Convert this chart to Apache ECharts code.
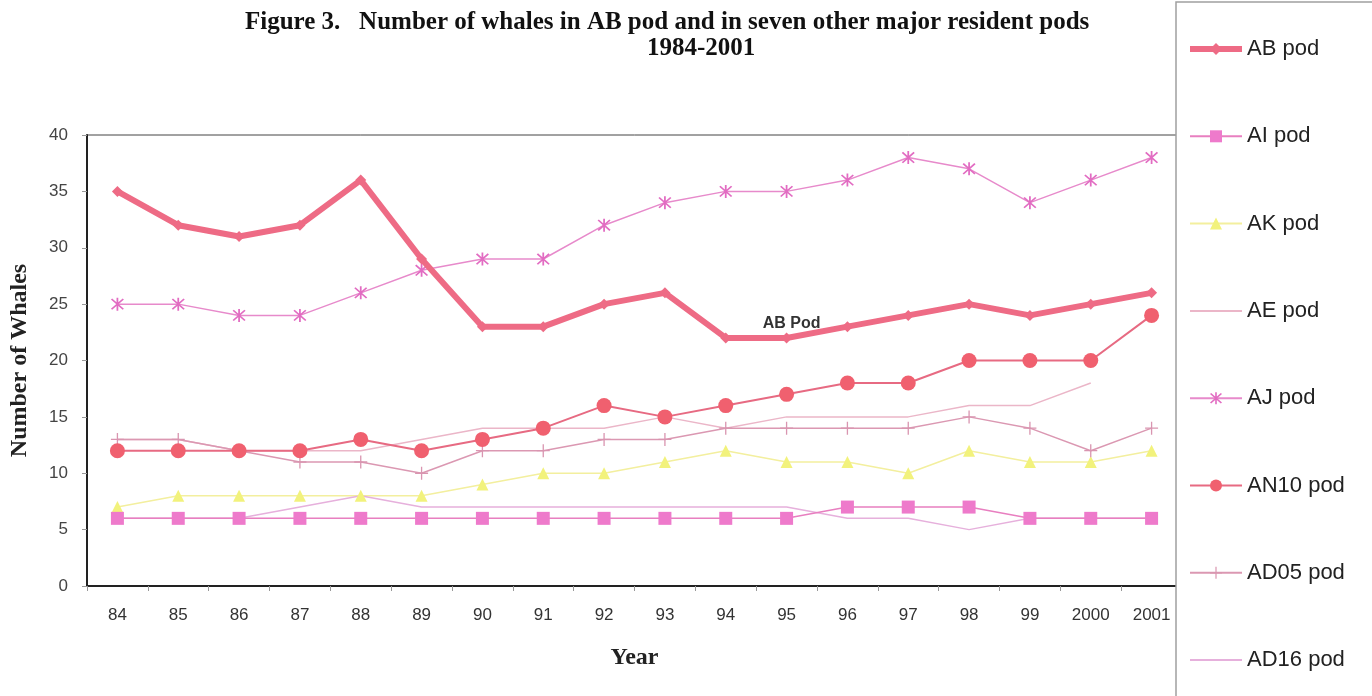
<!DOCTYPE html>
<html>
<head>
<meta charset="utf-8">
<script src="https://cdn.jsdelivr.net/npm/echarts@6/dist/echarts.min.js"></script>
<style>
  html, body { margin: 0; padding: 0; background: #fff; }
  #chart { width: 1372px; height: 696px; }
</style>
</head>
<body>
<div id="chart"></div>
<script>
// Survey years (two-digit labels as printed on the axis)
const years = ['84','85','86','87','88','89','90','91','92','93','94','95','96','97','98','99','2000','2001'];

// Whale counts per pod, 1984-2001
const abPod   = [35, 32, 31, 32, 36, 29, 23, 23, 25, 26, 22, 22, 23, 24, 25, 24, 25, 26];
const aiPod   = [6, 6, 6, 6, 6, 6, 6, 6, 6, 6, 6, 6, 7, 7, 7, 6, 6, 6];
const akPod   = [7, 8, 8, 8, 8, 8, 9, 10, 10, 11, 12, 11, 11, 10, 12, 11, 11, 12];
const aePod   = [13, 13, 12, 12, 12, 13, 14, 14, 14, 15, 14, 15, 15, 15, 16, 16, 18, null];
const ajPod   = [25, 25, 24, 24, 26, 28, 29, 29, 32, 34, 35, 35, 36, 38, 37, 34, 36, 38];
const an10Pod = [12, 12, 12, 12, 13, 12, 13, 14, 16, 15, 16, 17, 18, 18, 20, 20, 20, 24];
const ad05Pod = [13, 13, 12, 11, 11, 10, 12, 12, 13, 13, 14, 14, 14, 14, 15, 14, 12, 14];
const ad16Pod = [6, 6, 6, 7, 8, 7, 7, 7, 7, 7, 7, 7, 6, 6, 5, 6, 6, 6];

const yTicks = { min: 0, max: 40, interval: 5 };
const abLabelYear = '95';
const abLabelText = 'AB Pod';

// Marker shapes drawn as paths
const asteriskPath = 'path://M4.4,0h1.2v10h-1.2z M0.6,1.45L1.45,0.6L9.4,8.55L8.55,9.4z M8.55,0.6L9.4,1.45L1.45,9.4L0.6,8.55z';
const plusPath = 'path://M4.5,0h1v4.5h4.5v1h-4.5v4.5h-1v-4.5h-4.5v-1h4.5z';

const serif = '"Liberation Serif", "Times New Roman", serif';
const sans = '"Liberation Sans", Arial, sans-serif';

const chart = echarts.init(document.getElementById('chart'), null, { renderer: 'canvas' });

function lineSeries(name, data, color, opts) {
  return Object.assign({
    name: name,
    type: 'line',
    data: data,
    connectNulls: false,
    itemStyle: { color: color },
    lineStyle: { color: color, width: 1.5 },
    emphasis: { disabled: true },
    animation: false
  }, opts || {});
}

const abData = abPod.map((v, i) => years[i] === abLabelYear
  ? { value: v, label: { show: true, formatter: abLabelText, position: 'top', distance: 1, offset: [5, 0],
      fontFamily: sans, fontWeight: 'bold', fontSize: 16, color: '#333' } }
  : v);

const titleStyle = { fontFamily: serif, fontWeight: 'bold', fontSize: 25, color: '#111' };

chart.setOption({
  backgroundColor: '#ffffff',
  title: [
    {
      text: 'Figure 3.   Number of whales in AB pod and in seven other major resident pods',
      left: 245, top: 10, padding: 0,
      textStyle: titleStyle
    },
    {
      text: '1984-2001',
      left: 647, top: 36, padding: 0,
      textStyle: titleStyle
    }
  ],
  grid: {
    left: 85, right: 190, top: 135, bottom: 110,
    show: true, borderColor: '#444', borderWidth: 1, backgroundColor: 'transparent'
  },
  legend: {
    orient: 'vertical',
    left: 1187, top: 38, padding: 0,
    itemWidth: 52, itemHeight: 15, itemGap: 65.3,
    z: 100,
    selectedMode: false,
    textStyle: { fontFamily: sans, fontSize: 22, color: '#222', lineHeight: 20 },
    data: [
      { name: 'AB pod', lineStyle: { width: 6 } },
      'AI pod', 'AK pod',
      { name: 'AE pod', itemStyle: { opacity: 0 } },
      'AJ pod', 'AN10 pod', 'AD05 pod',
      { name: 'AD16 pod', itemStyle: { opacity: 0 } }
    ]
  },
  graphic: [
    {
      type: 'rect', z: 50,
      shape: { x: 1176, y: 2, width: 220, height: 720 },
      style: { fill: '#ffffff', stroke: '#a0a0a0', lineWidth: 1.5 }
    }
  ],
  xAxis: {
    type: 'category',
    data: years,
    boundaryGap: true,
    name: 'Year',
    nameLocation: 'middle',
    nameGap: 60,
    nameTextStyle: { fontFamily: serif, fontWeight: 'bold', fontSize: 24, color: '#222' },
    axisLine: { lineStyle: { color: '#222', width: 2 } },
    axisTick: { show: true, length: 5, lineStyle: { color: '#999' } },
    axisLabel: { fontFamily: sans, fontSize: 17, color: '#333', margin: 21 },
    splitLine: { show: false }
  },
  yAxis: {
    type: 'value',
    min: yTicks.min, max: yTicks.max, interval: yTicks.interval,
    name: 'Number of Whales',
    nameLocation: 'middle',
    nameGap: 55,
    nameTextStyle: { fontFamily: serif, fontWeight: 'bold', fontSize: 24, color: '#222' },
    axisLine: { show: true, lineStyle: { color: '#222', width: 2 } },
    axisTick: { show: true, length: 5, lineStyle: { color: '#999' } },
    axisLabel: { fontFamily: sans, fontSize: 17, color: '#444', margin: 19 },
    splitLine: { show: false }
  },
  series: [
    lineSeries('AB pod', abData, '#ee6b85', {
      symbol: 'diamond', symbolSize: 11, z: 10,
      lineStyle: { color: '#ee6b85', width: 6 }
    }),
    lineSeries('AI pod', aiPod, '#ee7acb', {
      symbol: 'rect', symbolSize: 13, z: 4,
      lineStyle: { color: '#e87fc0', width: 1.5 }
    }),
    lineSeries('AK pod', akPod, '#f2f27c', {
      symbol: 'triangle', symbolSize: 12, z: 3,
      lineStyle: { color: '#f3ef9e', width: 1.5 }
    }),
    lineSeries('AE pod', aePod, '#ebb6c8', {
      symbol: 'none', z: 3,
      lineStyle: { color: '#ebb6c8', width: 1.5 }
    }),
    lineSeries('AJ pod', ajPod, '#e26cc2', {
      symbol: asteriskPath, symbolSize: 13, z: 5,
      lineStyle: { color: '#e78acb', width: 1.5 }
    }),
    lineSeries('AN10 pod', an10Pod, '#f0606f', {
      symbol: 'circle', symbolSize: 15, z: 6,
      lineStyle: { color: '#e76a82', width: 2 }
    }),
    lineSeries('AD05 pod', ad05Pod, '#d995b0', {
      symbol: plusPath, symbolSize: 13, z: 4,
      lineStyle: { color: '#db98b2', width: 1.5 }
    }),
    lineSeries('AD16 pod', ad16Pod, '#e6b0dc', {
      symbol: 'none', z: 3,
      lineStyle: { color: '#e6b0dc', width: 1.5 }
    })
  ]
});
</script>
</body>
</html>
